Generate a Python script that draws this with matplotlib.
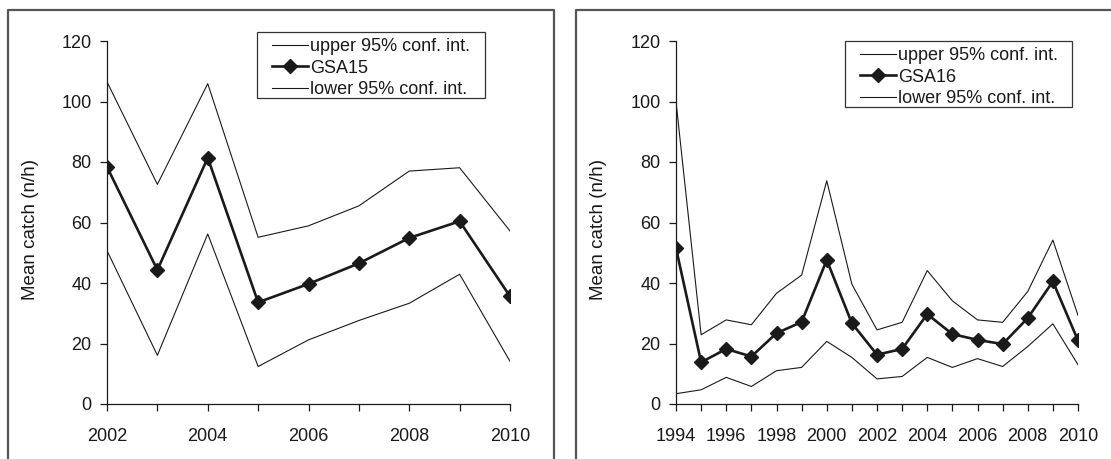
import numpy as np
import matplotlib
matplotlib.use("Agg")
import matplotlib.pyplot as plt
from matplotlib.lines import Line2D
from matplotlib.patches import Rectangle

plt.rcParams['font.family'] = ['Liberation Sans', 'DejaVu Sans']

# GSA15 survey
years15 = [2002, 2003, 2004, 2005, 2006, 2007, 2008, 2009, 2010]
mean15 = [78.4, 44.3, 81.4, 33.6, 39.7, 46.5, 54.9, 60.4, 35.6]
upper15 = [106.5, 72.6, 105.9, 55.1, 58.9, 65.5, 77.0, 78.1, 57.2]
lower15 = [50.7, 16.1, 56.2, 12.4, 21.2, 27.6, 33.3, 42.9, 14.1]

# GSA16 survey
years16 = list(range(1994, 2011))
mean16 = [51.5, 13.8, 18.2, 15.7, 23.4, 27.1, 47.6, 26.7, 16.3, 18.2,
          29.7, 23.1, 21.2, 19.8, 28.4, 40.5, 21.0]
upper16 = [100.0, 22.9, 27.8, 26.2, 36.6, 42.6, 73.8, 39.6, 24.5, 27.0,
           44.1, 34.1, 27.8, 27.0, 37.2, 54.2, 29.3]
lower16 = [3.4, 4.7, 8.8, 5.8, 11.0, 12.1, 20.7, 15.4, 8.3, 9.1,
           15.4, 12.1, 15.0, 12.4, 19.0, 26.5, 13.0]

W, H = 1111, 459
fig = plt.figure(figsize=(W / 100, H / 100), dpi=100)

def fx(px):
    return px / W

def fy(py):
    return 1 - py / H

# panel frames (open at bottom / right, as cropped)
frame = dict(color='#555555', lw=1.6, transform=fig.transFigure, clip_on=False)
fig.add_artist(Line2D([fx(8), fx(8), fx(554), fx(554)], [0, fy(10), fy(10), 0], **frame))
fig.add_artist(Line2D([fx(576), fx(576), 1.01], [0, fy(10), fy(10)], **frame))

dark = '#1a1a1a'

def panel(left, right, years, mean, upper, lower, name, legbox, ylab_x):
    ax = fig.add_axes([fx(left), fy(404), fx(right) - fx(left), fy(41) - fy(404)])
    ax.plot(years, upper, color=dark, lw=0.8, label='upper 95% conf. int.')
    ax.plot(years, mean, color=dark, lw=1.9, marker='D', markersize=7.5,
            label=name)
    ax.plot(years, lower, color=dark, lw=0.8, label='lower 95% conf. int.')
    ax.set_xlim(years[0], years[-1])
    ax.set_ylim(0, 120)
    ax.set_yticks(range(0, 121, 20))
    ax.set_xticks(years)
    ax.set_xticklabels([str(y) if (y - years[0]) % 2 == 0 else '' for y in years])
    for s in ['top', 'right']:
        ax.spines[s].set_visible(False)
    for s in ['left', 'bottom']:
        ax.spines[s].set_color(dark)
        ax.spines[s].set_linewidth(0.9)
    ax.tick_params(axis='both', direction='out', length=5, width=0.9,
                   colors=dark, labelsize=13)
    ax.tick_params(axis='x', pad=12)
    ax.tick_params(axis='y', pad=6)
    ax.set_ylabel('Mean catch (n/h)', fontsize=13.5, color=dark)
    ax.yaxis.set_label_coords(fx(ylab_x), 0.5, transform=fig.transFigure)

    # legend box (frame drawn separately for the wider left padding)
    x0, y0, x1, y1 = legbox
    fig.add_artist(Rectangle((fx(x0), fy(y1)), fx(x1) - fx(x0), fy(y0) - fy(y1),
                             transform=fig.transFigure, fill=False,
                             edgecolor='#333333', lw=0.9))
    leg = ax.legend(loc='upper left', bbox_to_anchor=(fx(x0 + 15), fy(y0 + 6)),
                    bbox_transform=fig.transFigure, fontsize=13, frameon=False,
                    handlelength=2.0, handletextpad=0.1, labelspacing=0.25,
                    borderpad=0, borderaxespad=0)
    for t in leg.get_texts():
        t.set_color(dark)
    return ax

panel(107, 510, years15, mean15, upper15, lower15, 'GSA15', (257, 32, 485, 98), 39)
panel(676, 1078, years16, mean16, upper16, lower16, 'GSA16', (845, 41, 1072, 107), 607)

fig.savefig('out.png', dpi=100)
